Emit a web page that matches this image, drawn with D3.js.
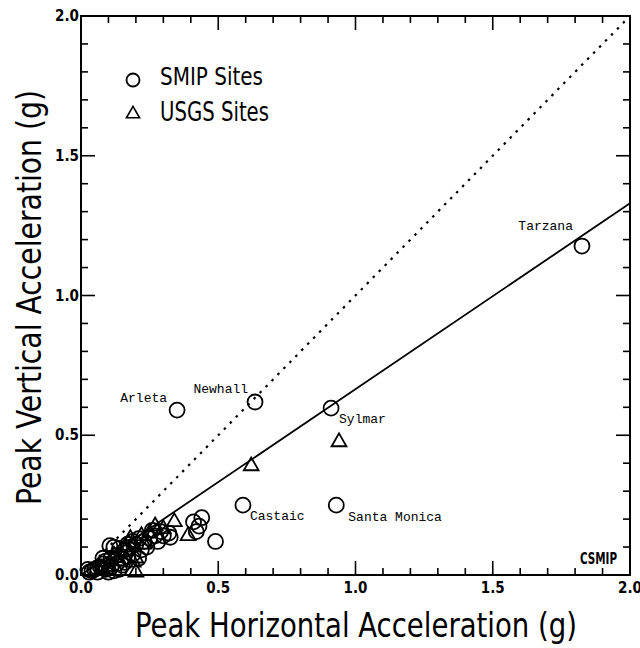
<!DOCTYPE html>
<html><head><meta charset="utf-8">
<script src="https://cdn.jsdelivr.net/npm/d3@7"></script>
<style>body{margin:0;background:#fff}</style>
</head><body><svg id="c" width="640" height="648"></svg>
<script>
// ---- data ----
const smipSites = [
  [1.825,1.177],[0.634,0.619],[0.35,0.59],[0.911,0.597],[0.59,0.25],[0.93,0.25],
  [0.49,0.12],[0.41,0.19],[0.44,0.205],[0.43,0.175],[0.42,0.155],[0.325,0.135],[0.29,0.155],
  [0.32,0.15],[0.27,0.14],[0.25,0.13],[0.23,0.12],[0.21,0.13],[0.20,0.11],[0.18,0.10],
  [0.105,0.105],[0.12,0.10],[0.14,0.095],[0.16,0.09],[0.17,0.11],[0.24,0.10],[0.22,0.09],
  [0.19,0.075],[0.17,0.065],[0.15,0.06],[0.13,0.07],[0.11,0.06],[0.09,0.05],[0.08,0.04],
  [0.07,0.03],[0.06,0.025],[0.05,0.02],[0.04,0.015],[0.03,0.01],[0.025,0.02],[0.06,0.01],
  [0.09,0.02],[0.11,0.03],[0.13,0.04],[0.15,0.035],[0.12,0.015],[0.10,0.01],[0.08,0.06],
  [0.19,0.12],[0.26,0.16],[0.28,0.12],[0.30,0.14],[0.21,0.06],[0.16,0.045],[0.14,0.02]
];
const usgsSites = [
  [0.94,0.476],[0.62,0.39],[0.39,0.14],[0.34,0.19],[0.27,0.175],[0.25,0.15],[0.30,0.165],
  [0.22,0.14],[0.18,0.13],[0.20,0.06],[0.19,0.045],[0.12,0.07],[0.16,0.10],[0.10,0.03],
  [0.14,0.05],[0.08,0.02],[0.2,0.01],[0.23,0.11]
];
const siteLabels = [
  {name:"Tarzana", x:1.825, y:1.177, dx:-9, dy:-16, anchor:"end"},
  {name:"Newhall", x:0.634, y:0.619, dx:-7, dy:-9, anchor:"end"},
  {name:"Arleta", x:0.35, y:0.59, dx:-10, dy:-8, anchor:"end"},
  {name:"Sylmar", x:0.911, y:0.597, dx:8, dy:15, anchor:"start"},
  {name:"Castaic", x:0.59, y:0.25, dx:7, dy:15, anchor:"start"},
  {name:"Santa Monica", x:0.93, y:0.25, dx:12, dy:16, anchor:"start"}
];
const regression = {intercept:0, slope:0.665};
const oneToOne = {intercept:0, slope:1};
const majorTicks = [0, 0.5, 1.0, 1.5, 2.0];
const minorTicks = d3.range(0, 2.0001, 0.1);
const xTitle = "Peak Horizontal Acceleration (g)";
const yTitle = "Peak Vertical Acceleration (g)";
const legendItems = ["SMIP Sites","USGS Sites"];

// ---- drawing ----
const svg = d3.select("#c");
const x = d3.scaleLinear().domain([0,2]).range([81,630]);
const y = d3.scaleLinear().domain([0,2]).range([575,16]);
const condensed = "'DejaVu Sans Condensed','Liberation Sans Narrow','Arial Narrow',sans-serif";
const mono = "'Liberation Mono','Courier New',monospace";

// frame
svg.append("rect").attr("x",x(0)).attr("y",y(2)).attr("width",x(2)-x(0)).attr("height",y(0)-y(2))
  .attr("fill","none").attr("stroke","#000").attr("stroke-width",2);

const isMajor = v => Math.abs(v*2 - Math.round(v*2)) < 1e-6;
// ticks on all sides, inward
const tg = svg.append("g").attr("stroke","#000").attr("stroke-width",1.6);
minorTicks.forEach(v=>{
  const L = isMajor(v) ? 14 : 7;
  tg.append("line").attr("x1",x(v)).attr("x2",x(v)).attr("y1",y(0)).attr("y2",y(0)-L);
  tg.append("line").attr("x1",x(v)).attr("x2",x(v)).attr("y1",y(2)).attr("y2",y(2)+L);
  tg.append("line").attr("y1",y(v)).attr("y2",y(v)).attr("x1",x(0)).attr("x2",x(0)+L);
  tg.append("line").attr("y1",y(v)).attr("y2",y(v)).attr("x1",x(2)).attr("x2",x(2)-L);
});

// tick labels
const fmt = d3.format(".1f");
svg.append("g").selectAll("text").data(majorTicks).join("text")
  .attr("x",d=>x(d)).attr("y",y(0)+18).attr("text-anchor","middle")
  .attr("font-family",condensed).attr("font-weight","bold").attr("font-size",15)
  .text(fmt);
svg.append("g").selectAll("text").data(majorTicks).join("text")
  .attr("x",x(0)-2).attr("y",d=>y(d)+5).attr("text-anchor","end")
  .attr("font-family",condensed).attr("font-weight","bold").attr("font-size",15)
  .text(fmt);

// reference lines
svg.append("line").attr("x1",x(0)).attr("y1",y(oneToOne.intercept))
  .attr("x2",x(2)).attr("y2",y(oneToOne.intercept+oneToOne.slope*2))
  .attr("stroke","#000").attr("stroke-width",2.2).attr("stroke-dasharray","2.5,6");
svg.append("line").attr("x1",x(0)).attr("y1",y(regression.intercept))
  .attr("x2",x(2)).attr("y2",y(regression.intercept+regression.slope*2))
  .attr("stroke","#000").attr("stroke-width",1.8);

// points
svg.append("g").selectAll("circle").data(smipSites).join("circle")
  .attr("cx",d=>x(d[0])).attr("cy",d=>y(d[1])).attr("r",7.5)
  .attr("fill","none").attr("stroke","#000").attr("stroke-width",1.8);
const tri = d3.symbol().type(d3.symbolTriangle).size(95);
svg.append("g").selectAll("path").data(usgsSites).join("path")
  .attr("d",tri).attr("transform",d=>`translate(${x(d[0])},${y(d[1])})`)
  .attr("fill","none").attr("stroke","#000").attr("stroke-width",1.8);

// site labels
svg.append("g").selectAll("text").data(siteLabels).join("text")
  .attr("x",d=>x(d.x)+d.dx).attr("y",d=>y(d.y)+d.dy).attr("text-anchor",d=>d.anchor)
  .attr("font-family",mono).attr("font-size",13).text(d=>d.name);

// legend
const lg = svg.append("g");
lg.append("circle").attr("cx",133).attr("cy",80).attr("r",6.5)
  .attr("fill","none").attr("stroke","#000").attr("stroke-width",1.8);
lg.append("path").attr("d",d3.symbol().type(d3.symbolTriangle).size(75)).attr("transform","translate(133,114)")
  .attr("fill","none").attr("stroke","#000").attr("stroke-width",1.6);
lg.append("text").attr("x",160).attr("y",85).attr("font-family",condensed).attr("font-size",25)
  .attr("textLength",103).attr("lengthAdjust","spacingAndGlyphs").text(legendItems[0]);
lg.append("text").attr("x",160).attr("y",121).attr("font-family",condensed).attr("font-size",26)
  .attr("textLength",109).attr("lengthAdjust","spacingAndGlyphs").text(legendItems[1]);

// CSMIP
svg.append("text").attr("x",580).attr("y",564).attr("font-family",condensed)
  .attr("font-weight","bold").attr("font-size",15).attr("textLength",37)
  .attr("lengthAdjust","spacingAndGlyphs").text("CSMIP");

// axis titles
svg.append("text").attr("x",135).attr("y",637).attr("font-family",condensed).attr("font-size",34)
  .attr("textLength",442).attr("lengthAdjust","spacingAndGlyphs").text(xTitle);
svg.append("text").attr("transform","translate(41,505) rotate(-90)")
  .attr("font-family",condensed).attr("font-size",34)
  .attr("textLength",415).attr("lengthAdjust","spacingAndGlyphs").text(yTitle);
</script></body></html>
